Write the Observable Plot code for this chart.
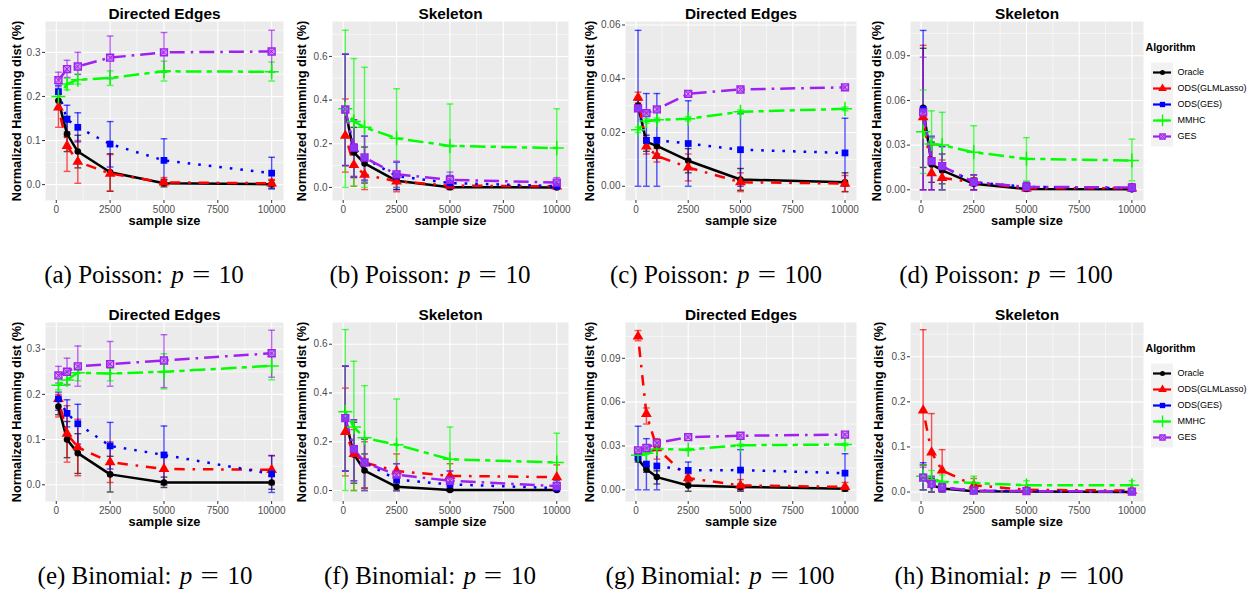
<!DOCTYPE html>
<html><head><meta charset="utf-8">
<script src="https://cdn.jsdelivr.net/npm/d3@7"></script>
<script src="https://cdn.jsdelivr.net/npm/@observablehq/plot@0.6"></script>
<style>
body{margin:0;background:#fff;}
#root{position:relative;width:1253px;height:594px;overflow:hidden;font-family:"Liberation Sans",Arial,sans-serif;}
.panel{position:absolute;}
.caption{position:absolute;font-family:"Liberation Serif","Times New Roman",serif;font-size:25px;line-height:24px;color:#000;white-space:nowrap;transform:translateX(-50%);}
.caption i{font-style:italic;margin-left:0.08em;}
.caption .eq{margin:0 0.42em;display:inline-block;transform:scaleX(1.3);}
</style></head><body><div id="root"></div>
<script>
// ---------- data ----------
const sampleSizes = [100, 500, 1000, 2500, 5000, 10000];
const algorithms = ["Oracle", "ODS(GLMLasso)", "ODS(GES)", "MMHC", "GES"];
const xTicks = [0, 2500, 5000, 7500, 10000];
const panelTitles = ["Directed Edges", "Skeleton", "Directed Edges", "Skeleton", "Directed Edges", "Skeleton", "Directed Edges", "Skeleton"];
const captionLetters = ["a", "b", "c", "d", "e", "f", "g", "h"];
const captionDists = ["Poisson", "Poisson", "Poisson", "Poisson", "Binomial", "Binomial", "Binomial", "Binomial"];
const captionP = [10, 10, 100, 100, 10, 10, 100, 100];
const yTicksA = [0, 0.1, 0.2, 0.3];
const yTicksB = [0, 0.2, 0.4, 0.6];
const yTicksC = [0, 0.02, 0.04, 0.06];
const yTicksD = [0, 0.03, 0.06, 0.09];
const yTicksE = [0, 0.1, 0.2, 0.3];
const yTicksF = [0, 0.2, 0.4, 0.6];
const yTicksG = [0, 0.03, 0.06, 0.09];
const yTicksH = [0, 0.1, 0.2, 0.3];

// rows: Oracle, ODS(GLMLasso), ODS(GES), MMHC, GES ; columns: sampleSizes
const poisP10Dir_mean = [
  [0.190, 0.115, 0.075, 0.028, 0.003, 0.001],
  [0.175, 0.088, 0.052, 0.025, 0.005, 0.003],
  [0.211, 0.148, 0.130, 0.092, 0.055, 0.026],
  [0.200, 0.228, 0.238, 0.242, 0.257, 0.256],
  [0.237, 0.262, 0.268, 0.288, 0.300, 0.302]];
const poisP10Dir_lo = [
  [0.175, 0.075, 0.038, -0.015, -0.005, -0.008],
  [0.130, 0.030, 0.003, -0.015, -0.002, -0.004],
  [0.192, 0.115, 0.097, 0.040, 0.010, -0.010],
  [0.190, 0.215, 0.228, 0.225, 0.235, 0.235],
  [0.222, 0.243, 0.250, 0.240, 0.255, 0.255]];
const poisP10Dir_hi = [
  [0.205, 0.155, 0.112, 0.070, 0.012, 0.010],
  [0.200, 0.120, 0.100, 0.068, 0.016, 0.012],
  [0.225, 0.180, 0.163, 0.143, 0.104, 0.062],
  [0.210, 0.242, 0.250, 0.258, 0.280, 0.278],
  [0.255, 0.282, 0.300, 0.337, 0.345, 0.350]];

const poisP10Skel_mean = [
  [0.355, 0.160, 0.110, 0.030, 0.001, 0.000],
  [0.237, 0.103, 0.058, 0.028, 0.008, 0.005],
  [0.355, 0.180, 0.135, 0.052, 0.020, 0.006],
  [0.360, 0.302, 0.275, 0.225, 0.190, 0.180],
  [0.357, 0.182, 0.137, 0.060, 0.035, 0.022]];
const poisP10Skel_lo = [
  [0.100, 0.045, 0.020, -0.010, -0.005, -0.003],
  [0.070, 0.005, -0.010, -0.020, -0.005, -0.004],
  [0.100, 0.050, 0.030, -0.010, -0.010, -0.006],
  [0.000, 0.005, 0.000, 0.000, 0.000, 0.000],
  [0.100, 0.050, 0.035, 0.000, 0.000, 0.000]];
const poisP10Skel_hi = [
  [0.610, 0.275, 0.185, 0.070, 0.008, 0.004],
  [0.405, 0.200, 0.125, 0.075, 0.020, 0.014],
  [0.610, 0.310, 0.235, 0.115, 0.055, 0.030],
  [0.720, 0.590, 0.550, 0.452, 0.382, 0.360],
  [0.610, 0.310, 0.235, 0.120, 0.070, 0.045]];

const poisP100Dir_mean = [
  [0.0300, 0.0165, 0.0150, 0.0095, 0.0025, 0.0015],
  [0.0330, 0.0148, 0.0113, 0.0070, 0.0015, 0.0010],
  [0.0290, 0.0171, 0.0171, 0.0159, 0.0136, 0.0124],
  [0.0210, 0.0243, 0.0247, 0.0251, 0.0277, 0.0288],
  [0.0290, 0.0272, 0.0286, 0.0344, 0.0360, 0.0368]];
const poisP100Dir_lo = [
  [0.0280, 0.0130, 0.0120, 0.0050, -0.0015, -0.0020],
  [0.0310, 0.0120, 0.0090, 0.0020, -0.0020, -0.0020],
  [0.0000, 0.0000, 0.0000, 0.0000, 0.0000, 0.0000],
  [0.0200, 0.0235, 0.0240, 0.0243, 0.0270, 0.0281],
  [0.0283, 0.0265, 0.0279, 0.0337, 0.0353, 0.0361]];
const poisP100Dir_hi = [
  [0.0320, 0.0190, 0.0180, 0.0140, 0.0066, 0.0050],
  [0.0350, 0.0180, 0.0140, 0.0120, 0.0050, 0.0040],
  [0.0580, 0.0345, 0.0345, 0.0318, 0.0270, 0.0253],
  [0.0220, 0.0251, 0.0254, 0.0259, 0.0284, 0.0295],
  [0.0297, 0.0279, 0.0293, 0.0351, 0.0367, 0.0375]];

const poisP100Skel_mean = [
  [0.0550, 0.0170, 0.0130, 0.0040, 0.0005, 0.0003],
  [0.0487, 0.0112, 0.0080, 0.0050, 0.0010, 0.0010],
  [0.0540, 0.0190, 0.0160, 0.0050, 0.0020, 0.0010],
  [0.0390, 0.0308, 0.0300, 0.0252, 0.0208, 0.0197],
  [0.0520, 0.0192, 0.0159, 0.0051, 0.0020, 0.0015]];
const poisP100Skel_lo = [
  [0.015, 0.005, 0.004, 0.000, -0.001, -0.001],
  [0.000, 0.000, 0.000, 0.000, 0.000, 0.000],
  [0.000, 0.000, 0.000, 0.000, 0.000, 0.000],
  [0.011, 0.010, 0.000, 0.005, 0.006, 0.006],
  [0.000, 0.000, 0.000, 0.000, 0.000, 0.000]];
const poisP100Skel_hi = [
  [0.095, 0.032, 0.024, 0.008, 0.002, 0.002],
  [0.097, 0.030, 0.020, 0.010, 0.004, 0.003],
  [0.107, 0.036, 0.029, 0.010, 0.005, 0.004],
  [0.067, 0.053, 0.052, 0.043, 0.035, 0.034],
  [0.089, 0.035, 0.029, 0.010, 0.005, 0.004]];

const binP10Dir_mean = [
  [0.173, 0.100, 0.070, 0.023, 0.005, 0.005],
  [0.190, 0.113, 0.083, 0.050, 0.035, 0.033],
  [0.190, 0.158, 0.135, 0.086, 0.066, 0.024],
  [0.220, 0.232, 0.248, 0.246, 0.250, 0.263],
  [0.242, 0.250, 0.262, 0.267, 0.275, 0.291]];
const binP10Dir_lo = [
  [0.155, 0.060, 0.025, -0.016, -0.006, -0.010],
  [0.150, 0.050, 0.020, 0.005, 0.000, 0.000],
  [0.165, 0.128, 0.090, 0.035, 0.000, -0.017],
  [0.210, 0.220, 0.230, 0.230, 0.212, 0.232],
  [0.225, 0.222, 0.218, 0.218, 0.215, 0.238]];
const binP10Dir_hi = [
  [0.190, 0.140, 0.113, 0.063, 0.017, 0.020],
  [0.200, 0.175, 0.145, 0.095, 0.070, 0.065],
  [0.205, 0.188, 0.178, 0.138, 0.130, 0.064],
  [0.235, 0.245, 0.258, 0.258, 0.290, 0.290],
  [0.262, 0.280, 0.307, 0.317, 0.332, 0.342]];

const binP10Skel_mean = [
  [0.295, 0.148, 0.082, 0.015, 0.002, 0.002],
  [0.240, 0.150, 0.115, 0.080, 0.060, 0.055],
  [0.295, 0.170, 0.115, 0.045, 0.025, 0.010],
  [0.323, 0.260, 0.216, 0.188, 0.128, 0.115],
  [0.297, 0.170, 0.115, 0.065, 0.040, 0.018]];
const binP10Skel_lo = [
  [0.080, 0.030, 0.010, 0.000, -0.003, -0.003],
  [0.060, 0.000, 0.010, 0.000, 0.000, 0.000],
  [0.080, 0.040, 0.000, 0.000, 0.000, 0.000],
  [0.000, 0.000, 0.000, 0.000, 0.000, 0.000],
  [0.080, 0.040, 0.000, 0.000, 0.000, 0.000]];
const binP10Skel_hi = [
  [0.510, 0.280, 0.150, 0.030, 0.008, 0.006],
  [0.420, 0.250, 0.200, 0.150, 0.110, 0.105],
  [0.510, 0.290, 0.210, 0.110, 0.080, 0.040],
  [0.660, 0.530, 0.430, 0.375, 0.260, 0.235],
  [0.510, 0.290, 0.210, 0.110, 0.080, 0.045]];

const binP100Dir_mean = [
  [0.0210, 0.0140, 0.0087, 0.0030, 0.0020, 0.0007],
  [0.1050, 0.0520, 0.0286, 0.0080, 0.0030, 0.0020],
  [0.0220, 0.0176, 0.0163, 0.0133, 0.0135, 0.0114],
  [0.0236, 0.0250, 0.0280, 0.0275, 0.0305, 0.0310],
  [0.0270, 0.0286, 0.0320, 0.0360, 0.0370, 0.0378]];
const binP100Dir_lo = [
  [0.0190, 0.0120, 0.0040, -0.0010, -0.0010, -0.0010],
  [0.1020, 0.0450, 0.0210, 0.0050, 0.0000, 0.0000],
  [0.0000, 0.0000, 0.0000, 0.0080, 0.0000, 0.0000],
  [0.0228, 0.0242, 0.0272, 0.0267, 0.0297, 0.0302],
  [0.0262, 0.0278, 0.0312, 0.0352, 0.0362, 0.0370]];
const binP100Dir_hi = [
  [0.0230, 0.0160, 0.0130, 0.0060, 0.0040, 0.0020],
  [0.1090, 0.0560, 0.0350, 0.0110, 0.0070, 0.0050],
  [0.0435, 0.0350, 0.0270, 0.0190, 0.0275, 0.0247],
  [0.0244, 0.0258, 0.0288, 0.0283, 0.0313, 0.0318],
  [0.0278, 0.0294, 0.0328, 0.0368, 0.0378, 0.0386]];

const binP100Skel_mean = [
  [0.033, 0.015, 0.008, 0.002, 0.001, 0.000],
  [0.181, 0.088, 0.048, 0.015, 0.005, 0.003],
  [0.033, 0.018, 0.010, 0.003, 0.002, 0.001],
  [0.035, 0.0275, 0.023, 0.020, 0.015, 0.015],
  [0.032, 0.018, 0.010, 0.003, 0.002, 0.001]];
const binP100Skel_lo = [
  [0.005, 0.000, 0.000, 0.000, 0.000, 0.000],
  [0.060, 0.000, 0.000, 0.000, 0.000, 0.000],
  [0.005, 0.000, 0.000, 0.000, 0.000, 0.000],
  [0.005, 0.000, 0.000, 0.005, 0.005, 0.005],
  [0.005, 0.000, 0.000, 0.000, 0.000, 0.000]];
const binP100Skel_hi = [
  [0.060, 0.030, 0.018, 0.005, 0.003, 0.002],
  [0.360, 0.174, 0.094, 0.030, 0.010, 0.006],
  [0.065, 0.035, 0.020, 0.006, 0.005, 0.003],
  [0.060, 0.048, 0.038, 0.035, 0.025, 0.025],
  [0.055, 0.033, 0.020, 0.006, 0.005, 0.003]];

// ---------- styles & layout ----------
const algColors = ["#000000", "#FF0000", "#0000FF", "#00FF00", "#A020F0"];
const algDash = [null, "2.6,7.8,10.4,7.8", "2.6,8", "5.2,5.2,15.6,5.2", "15,6,2.6,6"];
const panelSpecs = [
  {mean: poisP10Dir_mean,   lo: poisP10Dir_lo,   hi: poisP10Dir_hi,   yTicks: yTicksA, yDomain: [-0.036, 0.370],  fmt: ".1f", gx: 45,  gw: 238, row: 0, ylab: 29, cx: 144},
  {mean: poisP10Skel_mean,  lo: poisP10Skel_lo,  hi: poisP10Skel_hi,  yTicks: yTicksB, yDomain: [-0.060, 0.760],  fmt: ".1f", gx: 332, gw: 236, row: 0, ylab: 31, cx: 430},
  {mean: poisP100Dir_mean,  lo: poisP100Dir_lo,  hi: poisP100Dir_hi,  yTicks: yTicksC, yDomain: [-0.0053, 0.0613], fmt: ".2f", gx: 625, gw: 231, row: 0, ylab: 36, cx: 716},
  {mean: poisP100Skel_mean, lo: poisP100Skel_lo, hi: poisP100Skel_hi, yTicks: yTicksD, yDomain: [-0.0072, 0.1130], fmt: ".2f", gx: 910, gw: 233, row: 0, ylab: 34, cx: 1006},
  {mean: binP10Dir_mean,    lo: binP10Dir_lo,    hi: binP10Dir_hi,    yTicks: yTicksE, yDomain: [-0.037, 0.359],  fmt: ".1f", gx: 45,  gw: 238, row: 1, ylab: 29, cx: 145},
  {mean: binP10Skel_mean,   lo: binP10Skel_lo,   hi: binP10Skel_hi,   yTicks: yTicksF, yDomain: [-0.045, 0.689],  fmt: ".1f", gx: 332, gw: 236, row: 1, ylab: 31, cx: 430},
  {mean: binP100Dir_mean,   lo: binP100Dir_lo,   hi: binP100Dir_hi,   yTicks: yTicksG, yDomain: [-0.0080, 0.1145], fmt: ".2f", gx: 625, gw: 231, row: 1, ylab: 36, cx: 720},
  {mean: binP100Skel_mean,  lo: binP100Skel_lo,  hi: binP100Skel_hi,  yTicks: yTicksH, yDomain: [-0.021, 0.376],  fmt: ".1f", gx: 910, gw: 233, row: 1, ylab: 32, cx: 1009}
];
const ROW_STEP = 301, MT = 21, INNER_H = 179, MB = 40, ML = 50, MR = 4;
const FONT = "Liberation Sans, Arial, Helvetica, sans-serif";
const X_DOMAIN = [-500, 10550];

const capSymbol = {draw(ctx, size) { const w = Math.sqrt(size); ctx.moveTo(-w / 2, 0); ctx.lineTo(w / 2, 0); }};

function tidy(mean, lo, hi) {
  return algorithms.map((alg, i) => sampleSizes.map((n, j) => ({alg, n, y: mean[i][j], lo: lo[i][j], hi: hi[i][j]})));
}

function minorOf(ticks, domain) {
  const step = ticks[1] - ticks[0];
  const out = [];
  for (let v = ticks[0] - step / 2; v <= ticks[ticks.length - 1] + step; v += step) {
    if (v > domain[0] && v < domain[1]) out.push(v);
  }
  return out;
}

function pointMarks(rows, i) {
  const c = algColors[i];
  switch (i) {
    case 0: return [Plot.dot(rows, {x: "n", y: "y", symbol: "circle", r: 3.3, fill: c, stroke: "none"})];
    case 1: return [Plot.dot(rows, {x: "n", y: "y", symbol: "triangle", r: 4.0, fill: c, stroke: "none"})];
    case 2: return [Plot.dot(rows, {x: "n", y: "y", symbol: "square", r: 3.8, fill: c, stroke: "none"})];
    case 3: return [Plot.dot(rows, {x: "n", y: "y", symbol: "plus", r: 4.6, fill: "none", stroke: c, strokeWidth: 1.5})];
    default: return [
      Plot.dot(rows, {x: "n", y: "y", symbol: "square", r: 3.9, fill: "#C77DF3", fillOpacity: 0.6, stroke: c, strokeWidth: 1.4}),
      Plot.dot(rows, {x: "n", y: "y", symbol: "times", r: 3.3, fill: "none", stroke: c, strokeWidth: 1.0})];
  }
}

function makePanel(spec, k) {
  const series = tidy(spec.mean, spec.lo, spec.hi);
  const xMinor = minorOf(xTicks, X_DOMAIN);
  const yMinor = minorOf(spec.yTicks, spec.yDomain);
  const yMid = (spec.yDomain[0] + spec.yDomain[1]) / 2;
  const marks = [
    Plot.frame({fill: "#EBEBEB", stroke: "none"}),
    Plot.ruleX(xMinor, {stroke: "#FFFFFF", strokeWidth: 0.55}),
    Plot.ruleY(yMinor, {stroke: "#FFFFFF", strokeWidth: 0.55}),
    Plot.ruleX(xTicks, {stroke: "#FFFFFF", strokeWidth: 1.1}),
    Plot.ruleY(spec.yTicks, {stroke: "#FFFFFF", strokeWidth: 1.1}),
    Plot.axisX({ticks: xTicks, tickSize: 3, tickPadding: 2, fontSize: 10, stroke: "#333333", fill: "#4D4D4D", tickFormat: d3.format("d"), label: null}),
    Plot.axisY({ticks: spec.yTicks, tickSize: 3, tickPadding: 2, fontSize: 10, stroke: "#333333", fill: "#4D4D4D", tickFormat: d3.format(spec.fmt), label: null})
  ];
  series.forEach((rows, i) => {
    const c = algColors[i];
    marks.push(Plot.ruleX(rows, {x: "n", y1: "lo", y2: "hi", stroke: c, strokeOpacity: 0.68, strokeWidth: 1.4}));
    marks.push(Plot.dot(rows, {x: "n", y: "lo", symbol: capSymbol, r: 3.8, fill: "none", stroke: c, strokeOpacity: 0.68, strokeWidth: 1.4}));
    marks.push(Plot.dot(rows, {x: "n", y: "hi", symbol: capSymbol, r: 3.8, fill: "none", stroke: c, strokeOpacity: 0.68, strokeWidth: 1.4}));
  });
  series.forEach((rows, i) => {
    marks.push(Plot.line(rows, {x: "n", y: "y", stroke: algColors[i], strokeWidth: 2.5, strokeDasharray: algDash[i] || undefined, strokeLinecap: "butt", strokeLinejoin: "round"}));
  });
  series.forEach((rows, i) => { marks.push(...pointMarks(rows, i)); });
  marks.push(Plot.text([panelTitles[k]], {text: d => d, frameAnchor: "top", dy: -13.5, fontSize: 15.4, fontWeight: "bold", fill: "#000"}));
  marks.push(Plot.text(["sample size"], {text: d => d, frameAnchor: "bottom", dy: 24, fontSize: 12.8, fontWeight: "bold", fill: "#000"}));
  marks.push(Plot.text(["Normalized Hamming dist (%)"], {text: d => d, x: () => X_DOMAIN[0], y: () => yMid, dx: -spec.ylab, rotate: -90, textAnchor: "middle", fontSize: 12.8, fontWeight: "bold", fill: "#000"}));

  const w = ML + spec.gw + MR;
  const svg = Plot.plot({
    width: w, height: MT + INNER_H + MB,
    marginLeft: ML, marginRight: MR, marginTop: MT, marginBottom: MB,
    x: {type: "linear", domain: X_DOMAIN},
    y: {type: "linear", domain: spec.yDomain},
    style: {fontFamily: FONT, overflow: "visible", maxWidth: "none", background: "transparent"},
    marks
  });
  const div = document.createElement("div");
  div.className = "panel";
  div.style.left = (spec.gx - ML) + "px";
  div.style.top = (spec.row * ROW_STEP) + "px";
  div.style.width = w + "px";
  div.appendChild(svg);
  return div;
}

function makeLegend(top) {
  const marks = [
    Plot.text(["Algorithm"], {text: d => d, frameAnchor: "top-left", dx: 2, dy: 15, textAnchor: "start", fontSize: 10.6, fontWeight: "bold", fill: "#000"})
  ];
  algorithms.forEach((alg, i) => {
    const c = algColors[i];
    marks.push(Plot.ruleY([alg], {y: d => d, x1: 8, x2: 30, stroke: "#F2F2F2", strokeWidth: 20}));
    marks.push(Plot.ruleY([alg], {y: d => d, x1: 10, x2: 28, stroke: c, strokeWidth: 2.2}));
    const rows = [{a: alg}];
    let pm;
    switch (i) {
      case 0: pm = [Plot.dot(rows, {x: 19, y: "a", symbol: "circle", r: 2.5, fill: c})]; break;
      case 1: pm = [Plot.dot(rows, {x: 19, y: "a", symbol: "triangle", r: 3.2, fill: c})]; break;
      case 2: pm = [Plot.dot(rows, {x: 19, y: "a", symbol: "square", r: 3.0, fill: c})]; break;
      case 3: pm = [Plot.dot(rows, {x: 19, y: "a", symbol: "plus", r: 4.0, fill: "none", stroke: c, strokeWidth: 1.3})]; break;
      default: pm = [Plot.dot(rows, {x: 19, y: "a", symbol: "square", r: 3.0, fill: "#C77DF3", stroke: c, strokeWidth: 1.2}),
                     Plot.dot(rows, {x: 19, y: "a", symbol: "times", r: 2.5, fill: "none", stroke: c, strokeWidth: 0.9})];
    }
    marks.push(...pm);
    marks.push(Plot.text([alg], {text: d => d, x: 34, y: d => d, textAnchor: "start", fontSize: 9, fill: "#000"}));
  });
  const svg = Plot.plot({
    width: 110, height: 130, margin: 0,
    x: {type: "linear", domain: [0, 110], range: [0, 110], axis: null},
    y: {type: "point", domain: algorithms, range: [34, 118], axis: null},
    style: {fontFamily: FONT, overflow: "visible", maxWidth: "none", background: "transparent"},
    marks
  });
  const div = document.createElement("div");
  div.className = "panel";
  div.style.left = "1143px";
  div.style.top = top + "px";
  div.style.width = "110px";
  div.appendChild(svg);
  return div;
}

const root = document.getElementById("root");
panelSpecs.forEach((spec, k) => {
  root.appendChild(makePanel(spec, k));
  const cap = document.createElement("div");
  cap.className = "caption";
  cap.style.left = spec.cx + "px";
  cap.style.top = (262.6 + spec.row * ROW_STEP) + "px";
  cap.innerHTML = "(" + captionLetters[k] + ") " + captionDists[k] + ": <i>p</i><span class=\"eq\">=</span>" + captionP[k];
  root.appendChild(cap);
});
root.appendChild(makeLegend(28));
root.appendChild(makeLegend(28 + ROW_STEP));
</script></body></html>
